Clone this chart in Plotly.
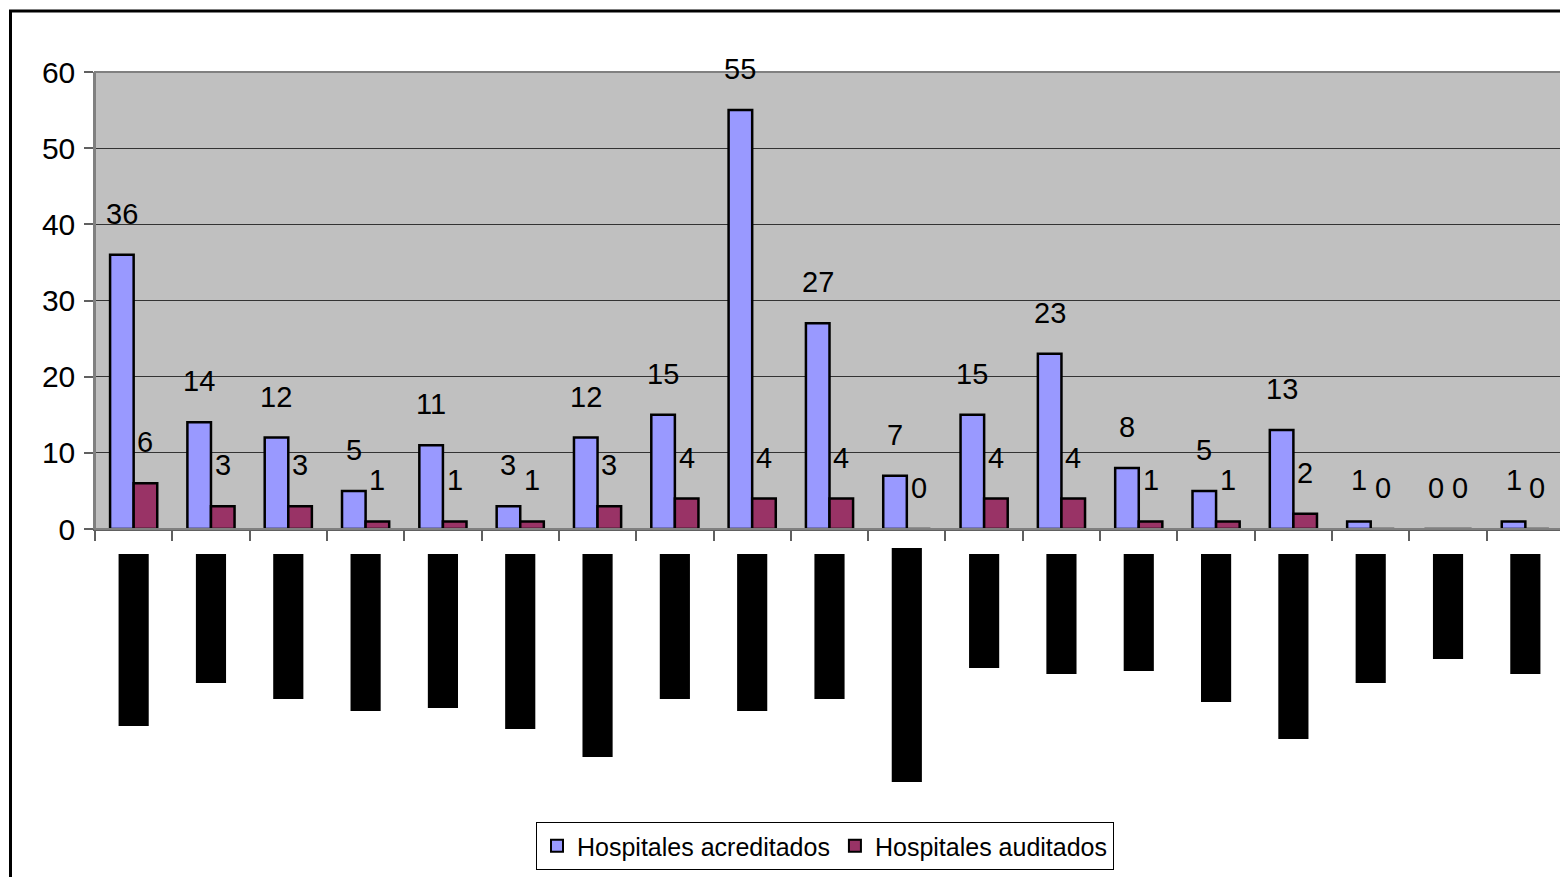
import plotly.graph_objects as go

# Category labels are redacted (black blocks) in the source; placeholders used
categories = [f"Cat {i}" for i in range(1, 20)]
acreditados = [36, 14, 12, 5, 11, 3, 12, 15, 55, 27, 7, 15, 23, 8, 5, 13, 1, 0, 1]
auditados = [6, 3, 3, 1, 1, 1, 3, 4, 4, 4, 0, 4, 4, 1, 1, 2, 0, 0, 0]
# length of the redacted label blocks (px-like units) and their start offset
label_block_len = [172, 129, 145, 157, 154, 175, 203, 145, 157, 145, 234,
                   114, 120, 117, 148, 185, 129, 105, 120]
label_block_start = [0, 0, 0, 0, 0, 0, 0, 0, 0, 0, -6,
                     0, 0, 0, 0, 0, 0, 0, 0]

FONT = "Liberation Sans, Arial, sans-serif"
OFF = 8  # page body margin
W, H = 1560, 869
L, R, T, B = 87, 4, 64, 95
pw = W - L - R
ph = H - T - B

def py(pix):
    # pix: page coordinate
    return (H - B - (pix - OFF)) / ph

def px(pix):
    return (pix - OFF - L) / pw

fig = go.Figure()
fig.add_trace(go.Bar(
    x=categories, y=acreditados, name="Hospitales acreditados",
    marker=dict(color="#9999FF", line=dict(color="black", width=2.5)),
    xaxis="x", yaxis="y",
))
fig.add_trace(go.Bar(
    x=categories, y=auditados, name="Hospitales auditados",
    marker=dict(color="#993366", line=dict(color="black", width=2.5)),
    xaxis="x", yaxis="y",
))
fig.add_trace(go.Bar(
    x=categories, y=label_block_len, base=label_block_start,
    marker=dict(color="black", line=dict(width=0)),
    width=0.39, showlegend=False, hoverinfo="skip",
    xaxis="x2", yaxis="y2",
))

cat_px = pw / len(categories)
bar_shift = 0.1525 * cat_px
annotations = []
for cat, v in zip(categories, acreditados):
    annotations.append(dict(x=cat, y=v, xref="x", yref="y", text=str(v),
                            showarrow=False, xshift=-bar_shift, yshift=41,
                            yanchor="middle", xanchor="center",
                            font=dict(family=FONT, size=29, color="black")))
for cat, v in zip(categories, auditados):
    annotations.append(dict(x=cat, y=v, xref="x", yref="y", text=str(v),
                            showarrow=False, xshift=bar_shift, yshift=41,
                            yanchor="middle", xanchor="center",
                            font=dict(family=FONT, size=29, color="black")))

fig.update_layout(
    width=W, height=H,
    margin=dict(l=L, r=R, t=T, b=B, pad=0),
    paper_bgcolor="white",
    plot_bgcolor="white",
    barmode="group", bargap=0.39, bargroupgap=0,
    font=dict(family=FONT, size=25, color="black"),
    xaxis=dict(domain=[0, 1], anchor="y", type="category",
               showticklabels=False, ticks="outside", tickson="boundaries",
               ticklen=10, tickcolor="#606060", tickwidth=1.5,
               showline=True, linecolor="#606060", linewidth=1.5,
               mirror=False, showgrid=False, zeroline=False),
    yaxis=dict(domain=[py(529), 1], anchor="x", range=[0, 60],
               tickvals=[0, 10, 20, 30, 40, 50, 60],
               ticks="outside", ticklen=9, tickcolor="#606060", tickwidth=1.5,
               ticklabelstandoff=3,
               tickfont=dict(family=FONT, size=30, color="black"),
               showline=True, linecolor="#808080", linewidth=1.5,
               showgrid=True, gridcolor="#333333", gridwidth=1,
               zeroline=False),
    xaxis2=dict(domain=[0, 1], anchor="y2", matches="x", type="category",
                showticklabels=False, showgrid=False, showline=False,
                zeroline=False, ticks=""),
    yaxis2=dict(domain=[0, py(548)], anchor="x2", range=[228, -6],
                showticklabels=False, showgrid=False, showline=False,
                zeroline=False, ticks=""),
    legend=dict(orientation="h", x=px(825), xanchor="center",
                y=py(822), yanchor="top",
                bgcolor="white", bordercolor="black", borderwidth=1,
                font=dict(family=FONT, size=25, color="black"),
                itemsizing="constant", tracegroupgap=0),
    annotations=annotations,
    showlegend=True,
)

# gray plot-area background for the main chart only
fig.add_shape(type="rect", xref="x domain", yref="y domain",
              x0=0, x1=1, y0=0, y1=1,
              fillcolor="#C0C0C0", line=dict(width=0), layer="below")
# plot area border (top/right) and outer chart frame
fig.add_shape(type="rect", xref="paper", yref="paper",
              x0=0, x1=1, y0=py(529), y1=1,
              line=dict(color="#808080", width=2), layer="above")
fig.add_shape(type="rect", xref="paper", yref="paper",
              x0=px(10.5), x1=px(1590), y0=py(900), y1=py(11),
              line=dict(color="black", width=3), layer="above")

fig.write_html("out.html")
